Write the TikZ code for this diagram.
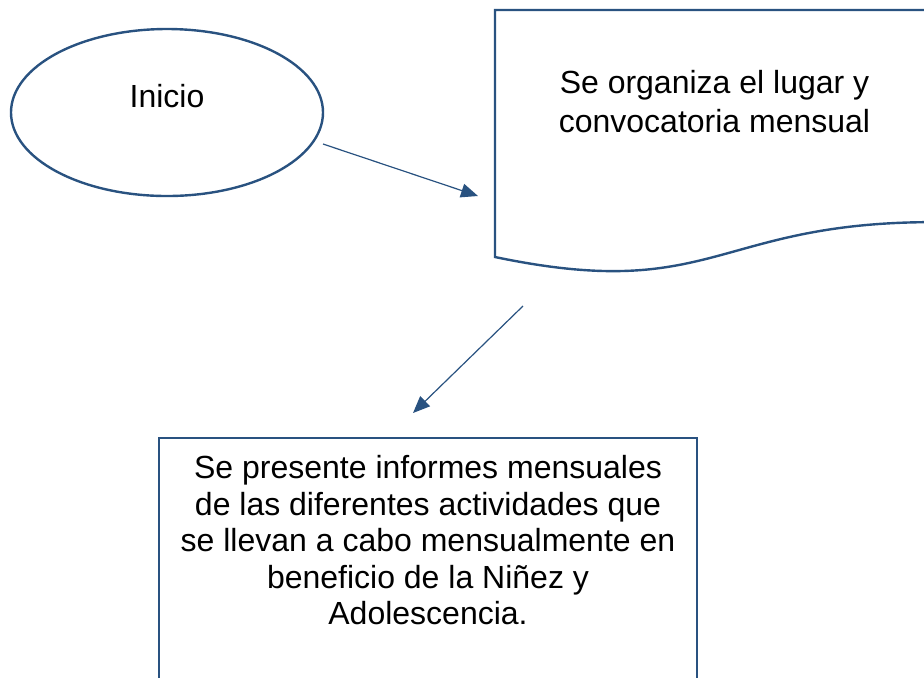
\documentclass[tikz,border=0pt]{standalone}
\usepackage{fontspec}
\setmainfont{Liberation Sans}
\usetikzlibrary{arrows.meta,shapes.geometric}
\definecolor{flowblue}{RGB}{41,82,128}
\begin{document}
\begin{tikzpicture}[x=0.5pt,y=-0.5pt,
  shapeline/.style={draw=flowblue,line width=1.2pt},
  conn/.style={draw=flowblue,line width=0.6pt,-{Triangle[length=8.5pt,width=7pt]}},
  txt/.style={font=\fontsize{16}{18.25}\selectfont,align=center,inner sep=0pt,text=black}]
\useasboundingbox (0,0) rectangle (924,677);
\clip (0,0) rectangle (924,677);
% start ellipse
\node[ellipse,shapeline,minimum width=156pt,minimum height=83.5pt,inner sep=0pt,
      text height=12pt,text depth=17pt,font=\fontsize{16}{18.25}\selectfont] (inicio) at (167,112.5) {Inicio};
% document shape
\coordinate (docNW) at (495,10);
\coordinate (docNE) at (934,10);
\coordinate (docSW) at (495,257);
\coordinate (docSE) at (934,222.1);
\draw[shapeline] (docNE) -- (docNW) -- (docSW) .. controls (714.5,302.9) and (714.5,222.1) .. (docSE) -- cycle;
\node[txt,font=\fontsize{16}{19.5}\selectfont] (organiza) at (714.5,101.5) {Se organiza el lugar y\\convocatoria mensual};
% process box
\coordinate (boxSW) at (159,700);
\coordinate (boxNW) at (159,438);
\coordinate (boxNE) at (697,438);
\coordinate (boxSE) at (697,700);
\draw[shapeline] (boxSW) -- (boxNW) -- (boxNE) -- (boxSE);
\node[txt] (informes) at (428,540.5) {Se presente informes mensuales\\de las diferentes actividades que\\se llevan a cabo mensualmente en\\beneficio de la Niñez y\\Adolescencia.};
% connectors
\coordinate (a1s) at (323,144);
\coordinate (a1e) at (478,196);
\coordinate (a2s) at (523,306);
\coordinate (a2e) at (413,413);
\draw[conn] (a1s) -- (a1e);
\draw[conn] (a2s) -- (a2e);
\end{tikzpicture}
\end{document}
